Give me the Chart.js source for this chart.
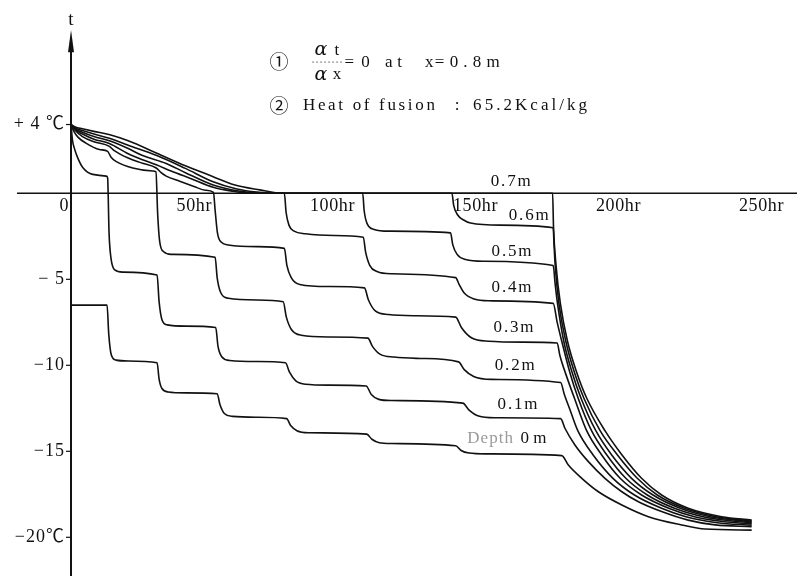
<!DOCTYPE html>
<html>
<head>
<meta charset="utf-8">
<title>Temperature vs time at each depth</title>
<script src="https://cdn.jsdelivr.net/npm/chart.js@4.4.1/dist/chart.umd.min.js"></script>
<style>
  html, body { margin: 0; padding: 0; background: #fff; }
  #wrap { width: 797px; height: 576px; }
</style>
</head>
<body>
<div id="wrap"><canvas id="myChart" width="797" height="576"></canvas></div>
<script>
// depth names, same order as the series below
const depthNames = ['Depth 0 m', '0.1m', '0.2m', '0.3m', '0.4m', '0.5m', '0.6m', '0.7m'];

// [hours, temperature in C]
const depth00 = [[0,-6.5],[12.6,-6.5],[13.2,-8.2],[14.1,-9.4],[15.8,-9.7],[20,-9.75],[30.1,-9.85],[30.8,-10.8],[31.8,-11.35],[34,-11.55],[40,-11.6],[51.1,-11.65],[52.1,-12.3],[53.6,-12.8],[56.5,-12.97],[65,-13.02],[75.4,-13.1],[76.8,-13.5],[79,-13.8],[83,-13.92],[103.4,-14.0],[105.2,-14.3],[107.8,-14.5],[112,-14.55],[134.5,-14.68],[136.4,-14.95],[139.2,-15.1],[145,-15.15],[171.6,-15.25],[173.9,-15.8],[178.6,-16.57],[184.4,-17.35],[192.6,-18.12],[201.9,-18.8],[213.5,-19.28],[221.7,-19.52],[238,-19.58]];
const depth01 = [[0,4],[0.5,3.1],[1.2,2.6],[2.5,2.0],[4.1,1.5],[7.6,1.1],[12.3,1.0],[12.8,0.9],[13.3,-2.3],[14,-3.8],[15.3,-4.45],[18,-4.58],[30.1,-4.75],[30.8,-6.3],[31.8,-7.35],[33.6,-7.65],[40,-7.72],[50.6,-7.8],[51.4,-8.9],[52.7,-9.5],[55.5,-9.72],[65,-9.78],[75,-9.85],[76.4,-10.4],[78.6,-10.9],[82,-11.1],[90,-11.15],[103.2,-11.2],[105,-11.7],[107.6,-11.98],[112,-12.05],[137,-12.2],[139.2,-12.6],[142.5,-12.95],[148,-13.05],[171.2,-13.1],[172.7,-13.66],[176.2,-14.63],[180.9,-15.6],[186.7,-16.57],[192.6,-17.35],[198.4,-17.93],[206.5,-18.5],[215.8,-19.0],[225.2,-19.28],[238,-19.38]];
const depth02 = [[0,4],[1,3.6],[2.5,3.25],[5.2,2.92],[9.9,2.55],[12.8,2.44],[14,2.1],[15.7,1.86],[21.6,1.47],[28.6,1.3],[29.7,1.25],[30.3,-1.2],[31,-2.8],[32.4,-3.4],[35,-3.55],[50.4,-3.72],[51.1,-4.9],[52.3,-5.75],[55,-6.1],[65,-6.2],[74.2,-6.3],[75.3,-7.2],[77,-7.9],[80.5,-8.25],[90,-8.35],[103.8,-8.42],[105.4,-8.9],[108,-9.35],[113,-9.52],[122,-9.6],[135.5,-9.8],[137.5,-10.25],[140.8,-10.65],[147,-10.82],[171.2,-11.0],[172.5,-11.7],[174.5,-12.6],[177.2,-13.8],[182.5,-15.2],[189.5,-16.57],[197,-17.54],[206.5,-18.31],[215,-18.8],[226,-19.15],[238,-19.3]];
const depth03 = [[0,4],[1.5,3.65],[4,3.3],[8,3.0],[13.4,2.73],[15,2.5],[20,2.05],[25,1.75],[29.8,1.47],[31.5,1.2],[33.3,1.0],[38,0.7],[43,0.4],[47,0.18],[49.8,0.05],[50.4,-1.0],[51.2,-2.3],[52.6,-2.85],[55,-3.0],[65,-3.1],[74.6,-3.2],[75.5,-4.2],[77,-4.9],[80,-5.3],[90,-5.42],[102.6,-5.5],[104,-6.2],[106.5,-6.85],[111,-7.05],[120,-7.12],[134.5,-7.2],[136.5,-7.8],[140,-8.4],[146,-8.6],[158,-8.65],[170,-8.7],[170.9,-9.4],[173.2,-10.6],[176,-11.9],[180.3,-13.8],[185.5,-15.2],[192,-16.57],[199.5,-17.54],[209,-18.31],[218,-18.8],[228,-19.08],[238,-19.22]];
const depth04 = [[0,4],[1.5,3.7],[4,3.45],[8,3.15],[13.4,2.9],[20,2.3],[25,1.95],[29.8,1.66],[35,1.3],[42,0.85],[49.7,0.35],[56.6,0.12],[62,0.02],[74.6,0],[75.2,-1.1],[76.2,-1.85],[78,-2.2],[82,-2.35],[92,-2.45],[102.2,-2.55],[103,-3.4],[104.5,-4.2],[107,-4.55],[112,-4.68],[134.5,-4.9],[135.7,-5.3],[137.5,-5.8],[141,-6.15],[146,-6.25],[168.6,-6.4],[170,-7.5],[171.6,-8.6],[174.4,-10.4],[177.3,-11.9],[182,-13.8],[187.3,-15.2],[194,-16.57],[201.5,-17.54],[211,-18.31],[221,-18.8],[229.5,-19.02],[238,-19.15]];
const depth05 = [[0,4],[1.5,3.75],[4,3.55],[8,3.3],[13.4,3.05],[20,2.6],[25,2.2],[33.3,1.74],[40,1.2],[49.7,0.48],[58,0.15],[67,0],[102,0],[102.5,-1.0],[103.5,-1.75],[106,-2.1],[111,-2.2],[132.7,-2.3],[133.5,-3.0],[135,-3.55],[138,-3.85],[144,-3.95],[168.6,-4.2],[169.3,-5.3],[170.1,-6.4],[172.3,-8.6],[175.2,-10.4],[178.3,-11.9],[183.5,-13.8],[189,-15.2],[196,-16.57],[203.5,-17.54],[213,-18.31],[223.5,-18.8],[231,-18.98],[238,-19.1]];
const depth06 = [[0,4],[1.5,3.8],[4,3.65],[8,3.45],[13.4,3.2],[20,2.8],[30,2.2],[40,1.45],[49.7,0.67],[58,0.25],[65,0.07],[72,0],[133.2,0],[133.8,-0.7],[135.2,-1.26],[137.3,-1.55],[139.7,-1.73],[150,-1.85],[168.6,-2.0],[168.9,-3.0],[169.3,-4.2],[170.6,-6.4],[173,-8.6],[176,-10.4],[179.3,-11.9],[185,-13.8],[191,-15.2],[198,-16.57],[205,-17.54],[214.5,-18.31],[225.5,-18.8],[232,-18.95],[238,-19.05]];
const depth07 = [[0,4],[1.5,3.85],[4,3.75],[8,3.6],[13.6,3.4],[20,3.05],[30,2.33],[40,1.6],[49.7,0.97],[57,0.5],[66,0.2],[74,0],[168.4,0],[168.7,-1.9],[169.6,-4.2],[171.1,-6.4],[173.6,-8.6],[176.8,-10.4],[180.3,-11.9],[186.7,-13.8],[192.6,-15.2],[199.5,-16.57],[206.5,-17.54],[215.8,-18.31],[227.5,-18.8],[238,-19.0]];

const allDepths = [depth00, depth01, depth02, depth03, depth04, depth05, depth06, depth07];

// tick labels
const xTickValues = [0, 50, 100, 150, 200, 250];
const xTickLabels = ['0', '50hr', '100hr', '150hr', '200hr', '250hr'];
const yTickValues = [4, -5, -10, -15, -20];
const yTickLabels = ['+ 4 ℃', '− 5', '−10', '−15', '−20℃'];

// where each curve name sits (hours, C)
const nameSpots = [[146.9,-14.23],[156.5,-12.3],[155.5,-10.03],[155.1,-7.83],[154.4,-5.5],[154.4,-3.41],[160.4,-1.32],[154.1,0.66]];

const serif = '"Liberation Serif", "Noto Sans CJK JP", serif';

function spread(ctx, text, left, y, width) {
  ctx.letterSpacing = '0px';
  const w = ctx.measureText(text).width;
  const n = [...text].length;
  const gap = n > 1 ? Math.max(0, (width - w) / (n - 1)) : 0;
  ctx.letterSpacing = gap.toFixed(2) + 'px';
  ctx.textAlign = 'left';
  ctx.fillText(text, left, y);
  ctx.letterSpacing = '0px';
}

const paperAxes = {
  id: 'paperAxes',
  beforeDatasetsDraw(chart) {
    const ctx = chart.ctx;
    const xs = chart.scales.x, ys = chart.scales.y;
    const x0 = xs.getPixelForValue(0), y0 = ys.getPixelForValue(0);
    ctx.save();
    ctx.strokeStyle = '#111';
    ctx.fillStyle = '#111';
    // time axis
    ctx.lineWidth = 1.5;
    ctx.beginPath();
    ctx.moveTo(xs.getPixelForValue(-18.9), y0);
    ctx.lineTo(chart.chartArea.right, y0);
    ctx.stroke();
    // temperature axis with arrow
    ctx.lineWidth = 2;
    ctx.beginPath();
    ctx.moveTo(x0, ys.getPixelForValue(8.6));
    ctx.lineTo(x0, chart.chartArea.bottom);
    ctx.stroke();
    ctx.beginPath();
    ctx.moveTo(x0, ys.getPixelForValue(9.5));
    ctx.lineTo(x0 - 3, ys.getPixelForValue(8.2));
    ctx.lineTo(x0 + 3, ys.getPixelForValue(8.2));
    ctx.closePath();
    ctx.fill();
    ctx.font = '19px ' + serif;
    ctx.textAlign = 'center';
    ctx.textBaseline = 'middle';
    ctx.fillText('t', x0, ys.getPixelForValue(10.1));

    // y ticks
    ctx.lineWidth = 1.2;
    ctx.font = '18px ' + serif;
    yTickValues.forEach((v, i) => {
      const py = ys.getPixelForValue(v);
      ctx.beginPath();
      ctx.moveTo(x0 - 5, py);
      ctx.lineTo(x0, py);
      ctx.stroke();
      ctx.letterSpacing = '1px';
      ctx.textAlign = 'right';
      ctx.fillText(yTickLabels[i], x0 - 6, py);
      ctx.letterSpacing = '0px';
    });
    // x labels
    xTickValues.forEach((v, i) => {
      ctx.letterSpacing = '0.6px';
      ctx.textAlign = 'right';
      ctx.fillText(xTickLabels[i], xs.getPixelForValue(v) - 2, y0 + 13);
      ctx.letterSpacing = '0px';
    });
    ctx.restore();
  },
  afterDatasetsDraw(chart) {
    const ctx = chart.ctx;
    const xs = chart.scales.x, ys = chart.scales.y;
    const X = v => xs.getPixelForValue(v), Y = v => ys.getPixelForValue(v);
    ctx.save();
    ctx.fillStyle = '#111';
    ctx.textBaseline = 'middle';

    // curve names
    ctx.font = '17px ' + serif;
    depthNames.forEach((name, i) => {
      const [hx, ty] = nameSpots[i];
      if (name.startsWith('Depth')) {
        ctx.fillStyle = '#9a9a9a';
        spread(ctx, 'Depth', X(hx) - 24, Y(ty), 46);
        ctx.fillStyle = '#111';
        spread(ctx, '0 m', X(161.7) - 13, Y(ty), 26);
      } else {
        spread(ctx, name, X(hx) - 21, Y(ty), 40);
      }
    });

    // notes at the top
    ctx.textAlign = 'center';
    ctx.font = '19px "Noto Sans CJK JP", sans-serif';
    ctx.fillText('①', X(72.7), Y(7.63));
    ctx.fillText('②', X(72.7), Y(5.08));
    ctx.font = 'italic 19px "DejaVu Serif", serif';
    ctx.fillText('α', X(87.4), Y(8.33));
    ctx.fillText('α', X(87.4), Y(6.88));
    ctx.font = '17px ' + serif;
    ctx.fillText('t', X(93), Y(8.33));
    ctx.fillText('x', X(93), Y(6.88));
    ctx.strokeStyle = '#777';
    ctx.lineWidth = 1;
    ctx.setLineDash([2, 2]);
    ctx.beginPath();
    ctx.moveTo(X(84.3), Y(7.63));
    ctx.lineTo(X(95), Y(7.63));
    ctx.stroke();
    ctx.setLineDash([]);
    ctx.textAlign = 'left';
    ctx.fillText('=', X(95.6), Y(7.6));
    ctx.fillText('0', X(101.5), Y(7.6));
    spread(ctx, 'at', X(109.8), Y(7.6), 17);
    ctx.fillText('x', X(123.8), Y(7.6));
    ctx.fillText('=', X(127.2), Y(7.6));
    spread(ctx, '0.8m', X(132.4), Y(7.6), 50);
    spread(ctx, 'Heat of fusion', X(81.1), Y(5.08), 132);
    ctx.textAlign = 'center';
    ctx.fillText(':', X(135), Y(5.08));
    spread(ctx, '65.2Kcal/kg', X(140.6), Y(5.08), 114);
    ctx.restore();
  }
};

const datasets = allDepths.map((pts, i) => ({
  label: depthNames[i],
  data: pts.map(p => ({ x: p[0], y: p[1] })),
  borderColor: '#111',
  borderWidth: 1.6,
  pointRadius: 0,
  fill: false,
  cubicInterpolationMode: 'monotone'
}));

new Chart('myChart', {
  type: 'line',
  data: { datasets: datasets },
  options: {
    responsive: false,
    animation: false,
    layout: { padding: 0 },
    plugins: { legend: { display: false }, tooltip: { enabled: false } },
    scales: {
      x: { type: 'linear', min: -24.83, max: 253.85, display: false },
      y: { type: 'linear', min: -22.25, max: 11.24, display: false }
    }
  },
  plugins: [paperAxes]
});
</script>
</body>
</html>
